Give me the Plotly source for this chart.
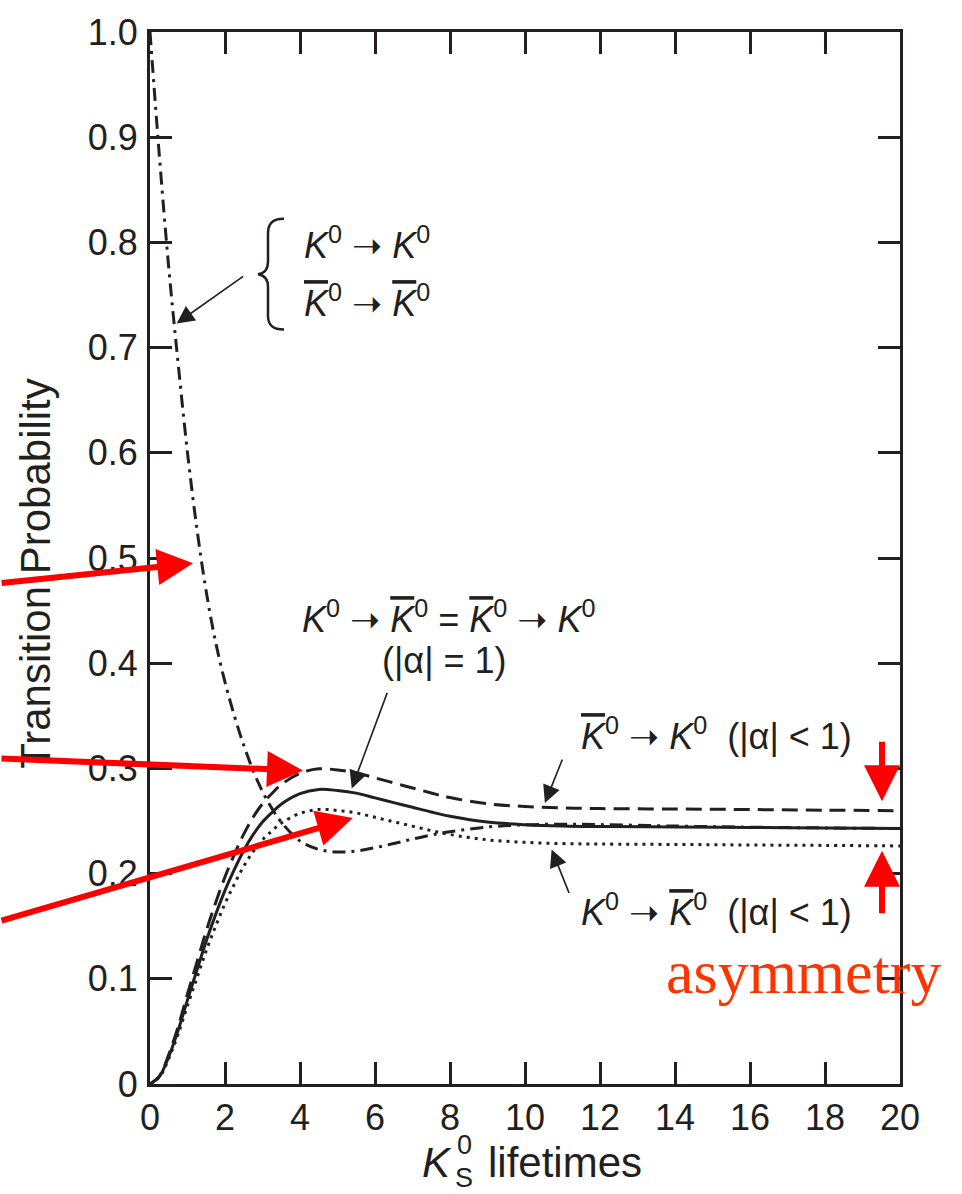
import plotly.graph_objects as go

# K0 lifetimes (units of the K_S lifetime)
t = [0, 0.25, 0.5, 0.75, 1.0, 1.25, 1.5, 1.75, 2.0, 2.25, 2.5, 2.75, 3.0, 3.25, 3.5,
     4.0, 4.5, 5.0, 5.5, 6.0, 6.5, 7.0, 7.5, 8.0, 9.0, 10, 11, 12, 14, 16, 18, 20]

# K0 -> K0  (= K0bar -> K0bar)
p_same = [1.000, 0.882, 0.776, 0.685, 0.600, 0.528, 0.468, 0.420, 0.382, 0.350, 0.322,
          0.298, 0.278, 0.262, 0.249, 0.231, 0.223, 0.2205, 0.2215, 0.2246, 0.2286,
          0.2328, 0.2367, 0.2398, 0.2443, 0.2464, 0.2469, 0.2466, 0.2452, 0.2441,
          0.2434, 0.2428]

# K0 -> K0bar = K0bar -> K0, |alpha| = 1
p_mix = [0.000, 0.007, 0.026, 0.051, 0.080, 0.108, 0.136, 0.161, 0.184, 0.204, 0.222,
         0.237, 0.249, 0.258, 0.266, 0.276, 0.280, 0.279, 0.2765, 0.272, 0.2675,
         0.263, 0.2585, 0.2545, 0.249, 0.2465, 0.2452, 0.2447, 0.2443, 0.2438,
         0.2433, 0.2428]

# K0bar -> K0, |alpha| < 1
p_bar_to_k = [0.000, 0.0075, 0.028, 0.0545, 0.0856, 0.1156, 0.1455, 0.1723, 0.1969,
              0.2183, 0.2375, 0.2536, 0.2664, 0.2761, 0.2846, 0.2953, 0.2996, 0.2985,
              0.2959, 0.2910, 0.2862, 0.2814, 0.2766, 0.2723, 0.2664, 0.2638, 0.2624,
              0.2618, 0.2614, 0.2609, 0.2603, 0.2598]

# K0 -> K0bar, |alpha| < 1
p_k_to_bar = [0.000, 0.0065, 0.0242, 0.0475, 0.0746, 0.1007, 0.1268, 0.1500, 0.1715,
              0.1901, 0.2069, 0.2209, 0.2321, 0.2405, 0.2479, 0.2572, 0.2610, 0.2600,
              0.2577, 0.2535, 0.2493, 0.2451, 0.2409, 0.2372, 0.2321, 0.2297, 0.2285,
              0.2281, 0.2277, 0.2272, 0.2268, 0.2263]

x_ticks = [0, 2, 4, 6, 8, 10, 12, 14, 16, 18, 20]
y_ticks = [0, 0.1, 0.2, 0.3, 0.4, 0.5, 0.6, 0.7, 0.8, 0.9, 1.0]
y_tick_text = ["0", "0.1", "0.2", "0.3", "0.4", "0.5", "0.6", "0.7", "0.8", "0.9", "1.0"]

INK = "#231f20"
RED = "#ff0000"
FONT = "Liberation Sans"

W, H = 962, 1194
ML, MR, MT, MB = 150, 62, 20, 110
PW, PH = W - ML - MR, H - MT - MB


def paper(xp, yp):
    """Page pixel position -> paper coordinates."""
    return (xp - ML) / PW, (H - MB - yp) / PH


fig = go.Figure()

line_w = 3
fig.add_trace(go.Scatter(x=t, y=p_same, mode="lines", line_shape="spline",
                         line=dict(color=INK, width=line_w, dash="13px,6px,3px,6px")))
fig.add_trace(go.Scatter(x=t, y=p_k_to_bar, mode="lines", line_shape="spline",
                         line=dict(color=INK, width=line_w, dash="3px,5px")))
fig.add_trace(go.Scatter(x=t, y=p_bar_to_k, mode="lines", line_shape="spline",
                         line=dict(color=INK, width=line_w, dash="16px,8px")))
fig.add_trace(go.Scatter(x=t, y=p_mix, mode="lines", line_shape="spline",
                         line=dict(color=INK, width=line_w)))

ann = []


def label(text, xp, yp, size=36, color=INK, family=FONT, **kw):
    px_, py_ = paper(xp, yp)
    ann.append(dict(text=text, x=px_, y=py_, xref="paper", yref="paper",
                    showarrow=False, xanchor="center", yanchor="middle",
                    font=dict(size=size, color=color, family=family), **kw))


def pointer(x, y, ax, ay, color=INK, width=1.6, head=2, size=2.2):
    ann.append(dict(text="", x=x, y=y, xref="x", yref="y", ax=ax, ay=ay,
                    showarrow=True, arrowhead=head, arrowsize=size,
                    arrowwidth=width, arrowcolor=color, standoff=0))


K = "<i>K</i>"
KB = "<i><span style='text-decoration:overline'>K</span></i>"
Z = "<sup>0</sup>"
AR = " <span style='font-family:DejaVu Sans'>\u279D</span> "

label(K + Z + AR + K + Z, 367, 233)
label(KB + Z + AR + KB + Z, 367, 292)
label(K + Z + AR + KB + Z + " = " + KB + Z + AR + K + Z, 449, 612)
label("(|\u03b1| = 1)", 444, 656)
label(KB + Z + AR + K + Z + "  (|\u03b1| < 1)", 716, 730)
label(K + Z + AR + KB + Z + "  (|\u03b1| < 1)", 716, 908)
label("asymmetry", 804, 971, size=62, color="#ff3300", family="Liberation Serif")

# axis titles
label("Transition Probability", 36, 568, size=42, textangle=-90)
label(K, 437, 1163, size=42)
label("0", 464, 1146, size=27)
label("S", 464, 1179, size=27)
label("lifetimes", 565, 1163, size=42)

# black pointers from the labels to the curves
pointer(0.71, 0.723, 68, -48)
pointer(5.38, 0.281, 36, -97)
pointer(10.53, 0.267, 18, -45)
pointer(10.71, 0.223, 18, 45)

# red highlight arrows
pointer(1.15, 0.495, -193, 20, color=RED, width=6, size=1.2)
pointer(4.08, 0.298, -303, -12, color=RED, width=6, size=1.2)
pointer(5.41, 0.2528, -353, 103, color=RED, width=6, size=1.2)
pointer(19.52, 0.2688, 0, -61, color=RED, width=6, size=1.2)
pointer(19.52, 0.2218, 0, 64, color=RED, width=6, size=1.2)

# curly brace grouping the two same-flavour labels
pts = [(284, 209), (272, 209), (268, 214), (268, 224), (268, 252), (268, 260), (265, 264),
       (258, 265), (265, 266), (268, 270), (268, 278), (268, 307), (268, 316), (272, 321),
       (284, 321)]
pp = [paper(a, b) for a, b in pts]
fmt = lambda p: f"{p[0]:.5f},{p[1]:.5f}"
brace = (f"M{fmt(pp[0])} C{fmt(pp[1])} {fmt(pp[2])} {fmt(pp[3])} L{fmt(pp[4])} "
         f"C{fmt(pp[5])} {fmt(pp[6])} {fmt(pp[7])} C{fmt(pp[8])} {fmt(pp[9])} {fmt(pp[10])} "
         f"L{fmt(pp[11])} C{fmt(pp[12])} {fmt(pp[13])} {fmt(pp[14])}")

fig.update_layout(
    width=W, height=H,
    margin=dict(l=ML, r=MR, t=MT, b=MB, pad=0),
    paper_bgcolor="white", plot_bgcolor="white",
    showlegend=False,
    annotations=ann,
    shapes=[dict(type="path", path=brace, xref="paper", yref="paper",
                 line=dict(color=INK, width=2.5))],
    font=dict(family=FONT, color=INK),
)
fig.update_xaxes(range=[0, 20], tickvals=x_ticks, ticks="inside", ticklen=22, tickwidth=3,
                 tickcolor=INK, showline=True, linewidth=3, linecolor=INK, mirror="allticks",
                 showgrid=False, zeroline=False, tickfont=dict(size=36, color=INK),
                 ticklabelstandoff=0, ticklabeloverflow="allow")
fig.update_yaxes(range=[0, 1.0], tickvals=y_ticks, ticktext=y_tick_text, ticks="inside",
                 ticklen=22, tickwidth=3, tickcolor=INK, showline=True, linewidth=3,
                 linecolor=INK, mirror="allticks", showgrid=False, zeroline=False,
                 tickfont=dict(size=36, color=INK), ticklabelstandoff=2,
                 ticklabeloverflow="allow")

fig.write_html("out.html")
